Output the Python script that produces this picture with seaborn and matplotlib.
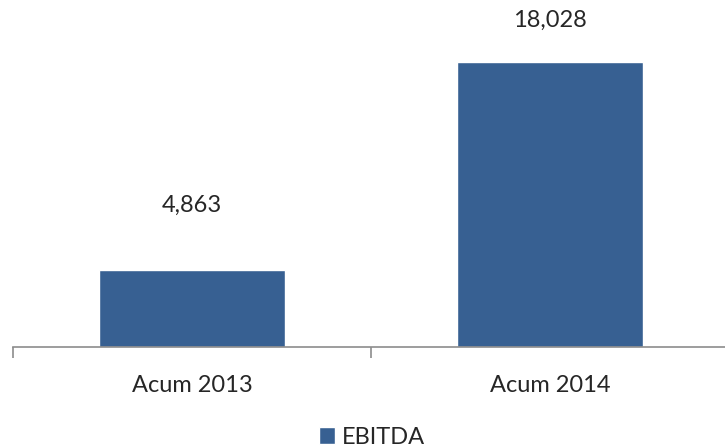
import matplotlib
matplotlib.use('Agg')
import matplotlib.pyplot as plt
import seaborn as sns
import pandas as pd

# datos del grafico
periods = ['Acum 2013', 'Acum 2014']
ebitda = [4863, 18028]
label_gap = [65, 42]  # separacion (px) de las etiquetas sobre las barras

sns.set_theme(style='white')
plt.rcParams['font.family'] = ['Lato', 'DejaVu Sans']

df = pd.DataFrame({'periodo': periods, 'EBITDA': ebitda})

fig = plt.figure(figsize=(7.25, 4.48), dpi=100)
ax = fig.add_axes([13 / 725, 101 / 448, 716 / 725, 347 / 448])

sns.barplot(data=df, x='periodo', y='EBITDA', color='#376092', width=0.52,
            saturation=1, ax=ax, label='EBITDA')

ax.set_xlim(-0.5, 1.5)
ax.set_ylim(0, 21950)
ax.set_xlabel('')
ax.set_ylabel('')
ax.set_yticks([])
for s in ['top', 'right', 'left']:
    ax.spines[s].set_visible(False)
ax.spines['bottom'].set_color('#8c8c8c')
ax.spines['bottom'].set_linewidth(1.2)

# marcas entre categorias
ax.set_xticks([-0.5, 0.5, 1.5], minor=True)
ax.tick_params(axis='x', which='minor', bottom=True, length=8, width=1.2,
               color='#8c8c8c')
ax.tick_params(axis='x', which='major', bottom=False, labelsize=17, pad=14)

for i, v in enumerate(ebitda):
    ax.annotate(f'{v:,}', (i, v), xytext=(0, label_gap[i]), textcoords='offset pixels',
                ha='center', va='center', fontsize=17)

ax.legend(loc='center', bbox_to_anchor=(372 / 725, 11 / 448),
          bbox_transform=fig.transFigure, frameon=False, fontsize=17,
          handlelength=0.7, handleheight=0.7, handletextpad=0.3,
          borderpad=0, borderaxespad=0)

fig.savefig('out.png', dpi=100)
